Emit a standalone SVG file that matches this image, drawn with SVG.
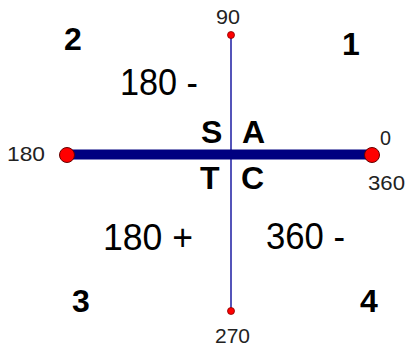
<svg xmlns="http://www.w3.org/2000/svg" width="406" height="347" viewBox="0 0 406 347">
<style>
.q{font-family:"Liberation Sans",Arial,sans-serif;font-weight:bold;font-size:32px;fill:#000}
.f{font-family:"Liberation Sans",Arial,sans-serif;font-size:36px;fill:#000}
.s{font-family:"Liberation Sans",Arial,sans-serif;font-size:21px;fill:#222}
.big{fill:#ff0000;stroke:#600;stroke-width:1}
.sm{fill:#ff0000;stroke:#800;stroke-width:0.8}
</style>
<rect width="406" height="347" fill="#fff"/>
<g id="connectors">
<line x1="231" y1="35" x2="231" y2="311" stroke="#2a2aa8" stroke-width="1.6"/>
<line x1="67" y1="154.5" x2="372" y2="154.5" stroke="#000080" stroke-width="10"/>
</g>
<g id="p0"><circle class="big" cx="372" cy="155" r="7.5"/><text class="s" x="380" y="145" textLength="11" lengthAdjust="spacingAndGlyphs">0</text><text class="s" x="368" y="190" textLength="37" lengthAdjust="spacingAndGlyphs">360</text></g>
<g id="p180"><circle class="big" cx="67" cy="155" r="7.5"/><text class="s" x="7" y="161" textLength="38" lengthAdjust="spacingAndGlyphs">180</text></g>
<g id="p90"><circle class="sm" cx="231" cy="35" r="3.5"/><text class="s" x="216" y="24" textLength="24" lengthAdjust="spacingAndGlyphs">90</text></g>
<g id="p270"><circle class="sm" cx="231" cy="311" r="3.5"/><text class="s" x="215" y="343" textLength="35" lengthAdjust="spacingAndGlyphs">270</text></g>
<g id="q1"><text class="q" x="342" y="55">1</text></g>
<g id="q2"><text class="q" x="64" y="50">2</text></g>
<g id="q3"><text class="q" x="72" y="312">3</text></g>
<g id="q4"><text class="q" x="360" y="312">4</text></g>
<g id="f2"><text class="f" x="120" y="95" textLength="78" lengthAdjust="spacingAndGlyphs">180 -</text></g>
<g id="f3"><text class="f" x="103" y="250" textLength="90" lengthAdjust="spacingAndGlyphs">180 +</text></g>
<g id="f4"><text class="f" x="266" y="249" textLength="79" lengthAdjust="spacingAndGlyphs">360 -</text></g>
<g id="S"><text class="q" x="201" y="143">S</text></g>
<g id="A"><text class="q" x="242" y="143">A</text></g>
<g id="T"><text class="q" x="200" y="189">T</text></g>
<g id="C"><text class="q" x="241" y="189">C</text></g>
</svg>
